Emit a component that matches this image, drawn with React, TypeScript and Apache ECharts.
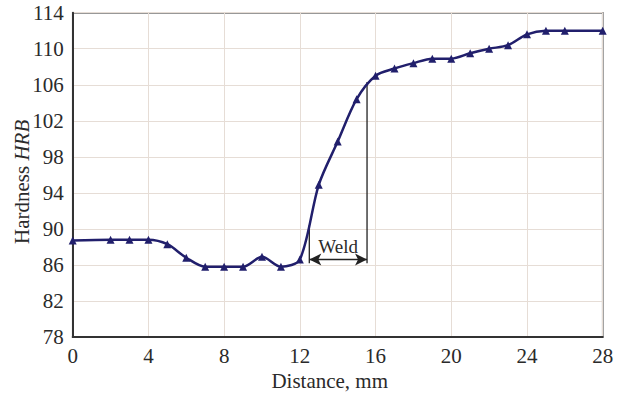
import React, { useEffect, useRef } from "react";
import * as echarts from "echarts";

const distance = [0, 2, 3, 4, 5, 6, 7, 8, 9, 10, 11, 12, 13, 14, 15, 16, 17, 18, 19, 20, 21, 22, 23, 24, 25, 26, 28];
const hardness = [88.7, 88.8, 88.8, 88.8, 88.3, 86.8, 85.8, 85.8, 85.8, 86.9, 85.8, 86.6, 94.9, 99.7, 104.4, 107.0, 107.8, 108.4, 108.9, 108.9, 109.5, 110.0, 110.4, 111.6, 112.0, 112.0, 112.0];

const xTicks = [0, 4, 8, 12, 16, 20, 24, 28];
const yTicks = [78, 82, 86, 90, 94, 98, 102, 106, 110, 114];

const weldStart = 12.5;
const weldEnd = 15.55;
const weldLeftTop = 90.4;
const weldRightTop = 106.3;
const weldBottom = 86.2;
const weldArrowY = 86.6;
const weldLabel = "Weld";

const FONT = "'Liberation Serif', 'Times New Roman', serif";
const TEXT = "#2a2a2a";
const LINE = "#211f6c";

export default function App() {
  const ref = useRef<HTMLDivElement>(null);
  useEffect(() => {
    document.body.style.margin = "0";
    const chart = echarts.init(ref.current!, null, { renderer: "svg" });
    chart.setOption({
      animation: false,
      backgroundColor: "#ffffff",
      textStyle: { fontFamily: FONT },
      grid: {
        left: 72.7,
        right: 24.3,
        top: 12.7,
        bottom: 57,
        containLabel: false,
        outerBoundsMode: "none",
        show: true,
        borderColor: "#333",
        borderWidth: 1.5,
      },
      xAxis: {
        type: "value",
        min: xTicks[0],
        max: xTicks[xTicks.length - 1],
        interval: 4,
        name: "Distance, mm",
        nameLocation: "middle",
        nameGap: 27,
        nameTextStyle: { fontFamily: FONT, fontSize: 21, color: TEXT, padding: [0, 16, 0, 0] },
        axisLine: { show: true, lineStyle: { color: "#333", width: 2 } },
        axisTick: { show: false },
        axisLabel: { fontFamily: FONT, fontSize: 21, color: TEXT, margin: 8 },
        splitLine: { show: true, lineStyle: { color: "#e6ddd6", width: 1 } },
      },
      yAxis: {
        type: "value",
        min: yTicks[0],
        max: yTicks[yTicks.length - 1],
        interval: 4,
        name: "Hardness {i|HRB}",
        nameLocation: "middle",
        nameGap: 40,
        nameMoveOverlap: false,
        nameTextStyle: {
          fontFamily: FONT,
          fontSize: 21,
          color: TEXT,
          padding: [0, 14, 0, 0],
          rich: { i: { fontFamily: FONT, fontSize: 21, fontStyle: "italic", color: TEXT } },
        },
        axisLine: { show: true, lineStyle: { color: "#333", width: 2 } },
        axisTick: { show: false },
        axisLabel: { fontFamily: FONT, fontSize: 21, color: TEXT, margin: 9 },
        splitLine: { show: true, lineStyle: { color: "#e6ddd6", width: 1 } },
      },
      series: [
        {
          type: "line",
          data: distance.map((d, i) => [d, hardness[i]]),
          smooth: 0.3,
          symbol: "triangle",
          symbolSize: 8,
          lineStyle: { color: LINE, width: 2.5 },
          itemStyle: { color: LINE },
          z: 5,
        },
        {
          type: "line",
          data: [
            [weldStart, weldLeftTop],
            [weldStart, weldBottom],
          ],
          symbol: "none",
          lineStyle: { color: "#222", width: 1.3 },
          z: 3,
        },
        {
          type: "line",
          data: [
            [weldEnd, weldRightTop],
            [weldEnd, weldBottom],
          ],
          symbol: "none",
          lineStyle: { color: "#222", width: 1.3 },
          z: 3,
          markLine: {
            silent: true,
            symbol: ["arrow", "arrow"],
            symbolSize: [9, 12],
            lineStyle: { color: "#222", width: 1.3, type: "solid" },
            label: {
              show: true,
              position: "insideMiddleTop",
              formatter: weldLabel,
              fontFamily: FONT,
              fontSize: 19,
              color: TEXT,
              distance: 4,
            },
            data: [
              [
                { coord: [weldStart, weldArrowY] },
                { coord: [weldEnd, weldArrowY] },
              ],
            ],
          },
        },
      ],
    });
    return () => chart.dispose();
  }, []);
  return <div ref={ref} style={{ position: "fixed", left: 0, top: 0, width: 627, height: 394 }} />;
}
